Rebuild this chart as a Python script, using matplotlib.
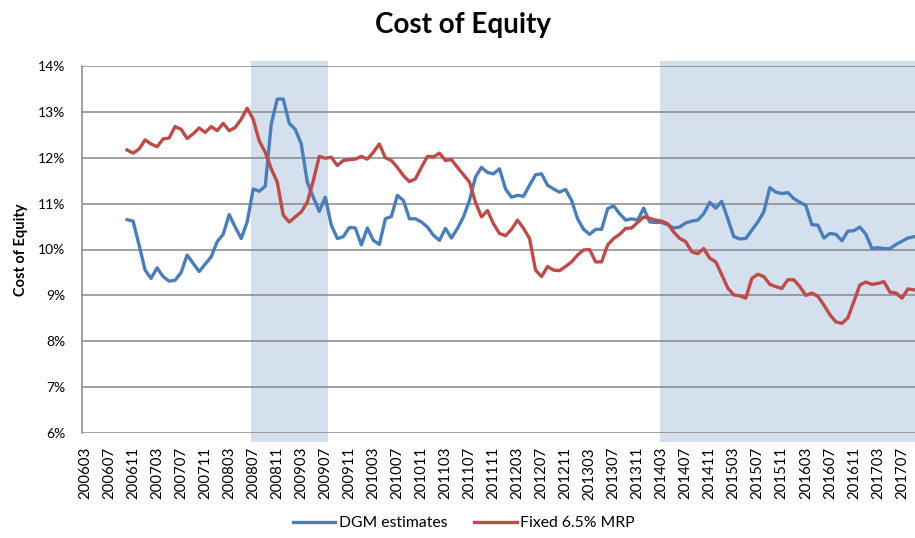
import matplotlib
matplotlib.use("Agg")
import matplotlib.pyplot as plt
import matplotlib.transforms as mtransforms
from matplotlib.patches import Rectangle

# monthly categories 200603 .. 201709
months = [f"{y}{m:02d}" for y in range(2006, 2018) for m in range(1, 13)]
months = months[months.index("200603"):months.index("201709") + 1]

series_start = "200610"

dgm = [10.65, 10.62, 10.10, 9.55, 9.37, 9.60, 9.41, 9.31, 9.33, 9.50, 9.88, 9.70,
       9.52, 9.68, 9.84, 10.17, 10.33, 10.76, 10.49, 10.24, 10.60, 11.32, 11.27, 11.38,
       12.73, 13.28, 13.28, 12.75, 12.62, 12.30, 11.47, 11.14, 10.83, 11.14, 10.53, 10.24,
       10.28, 10.48, 10.47, 10.10, 10.47, 10.20, 10.11, 10.67, 10.72, 11.18, 11.07, 10.67,
       10.67, 10.60, 10.49, 10.31, 10.20, 10.46, 10.25, 10.46, 10.71, 11.07, 11.58, 11.79,
       11.68, 11.65, 11.76, 11.32, 11.14, 11.18, 11.16, 11.40, 11.63, 11.65, 11.40, 11.32,
       11.25, 11.31, 11.07, 10.67, 10.44, 10.33, 10.44, 10.44, 10.89, 10.95, 10.78, 10.64,
       10.67, 10.64, 10.90, 10.60, 10.59, 10.59, 10.54, 10.47, 10.49, 10.58, 10.62, 10.64,
       10.78, 11.03, 10.90, 11.05, 10.67, 10.28, 10.23, 10.24, 10.42, 10.60, 10.82, 11.35,
       11.25, 11.22, 11.24, 11.11, 11.03, 10.96, 10.54, 10.53, 10.25, 10.35, 10.33, 10.19,
       10.40, 10.41, 10.49, 10.33, 10.02, 10.04, 10.02, 10.02, 10.11, 10.18, 10.25, 10.28]

fixed_mrp = [12.17, 12.10, 12.19, 12.39, 12.30, 12.24, 12.41, 12.43, 12.68, 12.62, 12.42, 12.52,
             12.65, 12.55, 12.68, 12.59, 12.75, 12.59, 12.66, 12.84, 13.08, 12.84, 12.37, 12.12,
             11.76, 11.47, 10.75, 10.60, 10.71, 10.82, 11.03, 11.50, 12.03, 11.99, 12.01, 11.83,
             11.94, 11.96, 11.97, 12.03, 11.97, 12.12, 12.30, 12.00, 11.94, 11.79, 11.61, 11.48,
             11.54, 11.79, 12.03, 12.02, 12.10, 11.94, 11.96, 11.79, 11.63, 11.47, 11.03, 10.71,
             10.85, 10.56, 10.35, 10.30, 10.44, 10.64, 10.46, 10.24, 9.55, 9.41, 9.63, 9.55,
             9.54, 9.63, 9.73, 9.88, 9.99, 10.00, 9.73, 9.73, 10.10, 10.24, 10.33, 10.46,
             10.47, 10.59, 10.71, 10.68, 10.64, 10.62, 10.56, 10.38, 10.24, 10.17, 9.95, 9.91,
             10.02, 9.81, 9.73, 9.45, 9.16, 9.01, 8.99, 8.94, 9.37, 9.46, 9.41, 9.24,
             9.19, 9.15, 9.34, 9.34, 9.19, 9.00, 9.05, 8.98, 8.79, 8.58, 8.42, 8.39,
             8.51, 8.87, 9.23, 9.29, 9.24, 9.26, 9.30, 9.07, 9.05, 8.94, 9.14, 9.12]

shaded = [("200807", "200907"), ("201403", "201709")]

y_ticks = [6, 7, 8, 9, 10, 11, 12, 13, 14]

plt.rcParams['font.family'] = ['Lato', 'DejaVu Sans']

fig = plt.figure(figsize=(9.15, 5.38), dpi=100)
ax = fig.add_axes([82 / 915, 1 - 433 / 538, 835 / 915, (433 - 66) / 538])

# shaded periods, a bit taller than the plot area like the excel columns
trans = mtransforms.blended_transform_factory(ax.transData, ax.transAxes)
for a, b in shaded:
    x0 = months.index(a) - 0.3
    x1 = months.index(b) + 0.5
    ax.add_patch(Rectangle((x0, -0.024), x1 - x0, 1.038, transform=trans,
                           facecolor='#d5e0ee', edgecolor='none', clip_on=False, zorder=0))

for t in y_ticks:
    ax.axhline(t, color='#878787', lw=1.1, zorder=1)

s = months.index(series_start)
x_dgm = list(range(s, s + len(dgm)))
x_mrp = list(range(s, s + len(fixed_mrp)))
ax.plot(x_dgm, dgm, color='#4a7ebb', lw=2.4, label='DGM estimates', zorder=3)
ax.plot(x_mrp, fixed_mrp, color='#be4b48', lw=2.4, label='Fixed 6.5% MRP', zorder=3)

ax.set_xlim(-0.5, len(months) - 0.5)
ax.set_ylim(6, 14)
ax.set_yticks(y_ticks)
ax.set_yticklabels([f"{t}%" for t in y_ticks], fontsize=10)
tick_pos = list(range(0, len(months), 4))
ax.set_xticks(tick_pos)
ax.set_xticklabels([months[i] for i in tick_pos], rotation=90, fontsize=10.8)
ax.tick_params(axis='x', length=0, pad=10)
ax.tick_params(axis='y', length=0, pad=12)

for side in ['top', 'right', 'bottom']:
    ax.spines[side].set_visible(False)
ax.spines['left'].set_color('#878787')
ax.spines['left'].set_linewidth(1.1)
ax.set_facecolor('none')

ax.set_ylabel("Cost of Equity", fontsize=10.5, fontweight='bold', labelpad=7)
fig.text(0.506, 0.953, "Cost of Equity", ha='center', va='center',
         fontsize=20, fontweight='bold')

fig.legend(loc='lower center', bbox_to_anchor=(0.507, -0.012), ncol=2, frameon=False,
           fontsize=11.3, handlelength=2.7, columnspacing=1.7, handletextpad=0.25)

fig.savefig("out.png", dpi=100)
